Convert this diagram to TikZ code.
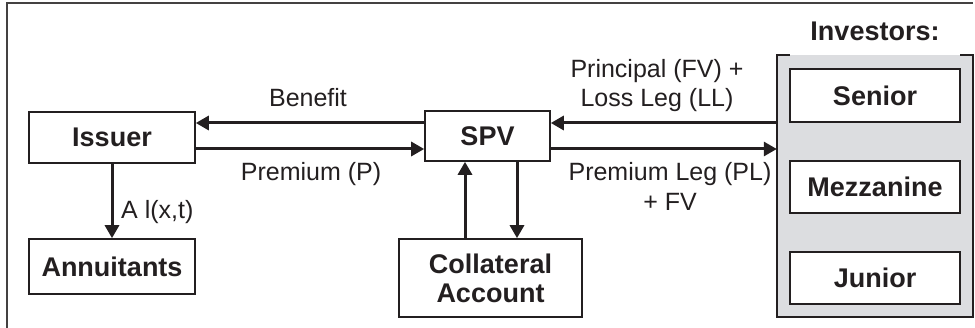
\documentclass[tikz,border=0pt]{standalone}
\usepackage{fontspec}
\setmainfont{Liberation Sans}
\usetikzlibrary{arrows.meta}
\definecolor{ink}{RGB}{35,31,32}
\definecolor{invgrey}{RGB}{220,221,224}
\tikzset{
  box/.style={draw=ink, line width=1.6pt, fill=white, inner sep=0pt, font=\fontsize{27}{30}\selectfont\bfseries, text=ink, align=center},
  arr/.style={draw=ink, line width=3pt, -{Triangle[length=13pt,width=14pt]}},
  lbl/.style={font=\fontsize{25}{30}\selectfont, text=ink, inner sep=0pt, align=center},
  frame/.style={draw=ink!85, line width=2pt}
}
\begin{document}
\begin{tikzpicture}[x=1pt,y=-1pt]
\useasboundingbox (0,0) rectangle (975,328);
% outer frame
\coordinate (ftl) at (6.5,3);
\coordinate (ftr) at (973,3);
\coordinate (fbl) at (6.5,330);
\draw[frame] (ftr) -- (ftl) -- (fbl);
% investors group
\node[fill=invgrey, minimum width=196pt, minimum height=262pt, inner sep=0pt] (inv) at (875,186) {};
\draw[draw=ink, line width=1.6pt] ([xshift=13pt]inv.north west) -- (inv.north west) -- (inv.south west) -- (inv.south east) -- (inv.north east) -- ([xshift=-13pt]inv.north east);
\node[lbl, font=\fontsize{27}{30}\selectfont\bfseries] (invlbl) at (875,31) {Investors:};
\node[box, minimum width=170pt, minimum height=53pt] (senior) at (875,95.5) {Senior};
\node[box, minimum width=170pt, minimum height=52pt] (mezz) at (875,187) {Mezzanine};
\node[box, minimum width=170pt, minimum height=52pt] (junior) at (875,278) {Junior};
% main boxes
\node[box, minimum width=166pt, minimum height=51pt] (issuer) at (112,137.5) {Issuer};
\node[box, minimum width=166pt, minimum height=55pt] (annu) at (112,266.5) {Annuitants};
\node[box, minimum width=125pt, minimum height=50pt] (spv) at (487.5,136) {SPV};
\node[box, minimum width=183pt, minimum height=78pt] (coll) at (490.5,278) {Collateral\\[-1pt]Account};
% connectors
\draw[arr] ([yshift=13pt]spv.west) -- ([yshift=13pt]spv.west -| issuer.east);
\draw[arr] ([yshift=-13pt]spv.west -| issuer.east) -- ([yshift=-13pt]spv.west);
\draw[arr] ([yshift=13pt]spv.east -| inv.west) -- ([yshift=13pt]spv.east);
\draw[arr] ([yshift=-13pt]spv.east) -- ([yshift=-13pt]spv.east -| inv.west);
\draw[arr] (issuer.south) -- (annu.north);
\coordinate (cu) at ([xshift=-22.5pt]spv.south);
\coordinate (cd) at ([xshift=29.5pt]spv.south);
\draw[arr] (cu |- coll.north) -- (cu);
\draw[arr] (cd) -- (cd |- coll.north);
% labels
\node[lbl, anchor=base] (lben) at (308,107) {Benefit};
\node[lbl, anchor=base] (lprem) at (311,181) {Premium (P)};
\node[lbl, anchor=base west] (lann) at (121,218.5) {A l(x,t)};
\node[lbl, anchor=base] (lprin) at (657,77.5) {Principal (FV) +};
\node[lbl, anchor=base] (lloss) at (657,107) {Loss Leg (LL)};
\node[lbl, anchor=base] (lpl) at (670,181) {Premium Leg (PL)};
\node[lbl, anchor=base] (lfv) at (670,211) {+ FV};
\end{tikzpicture}
\end{document}
